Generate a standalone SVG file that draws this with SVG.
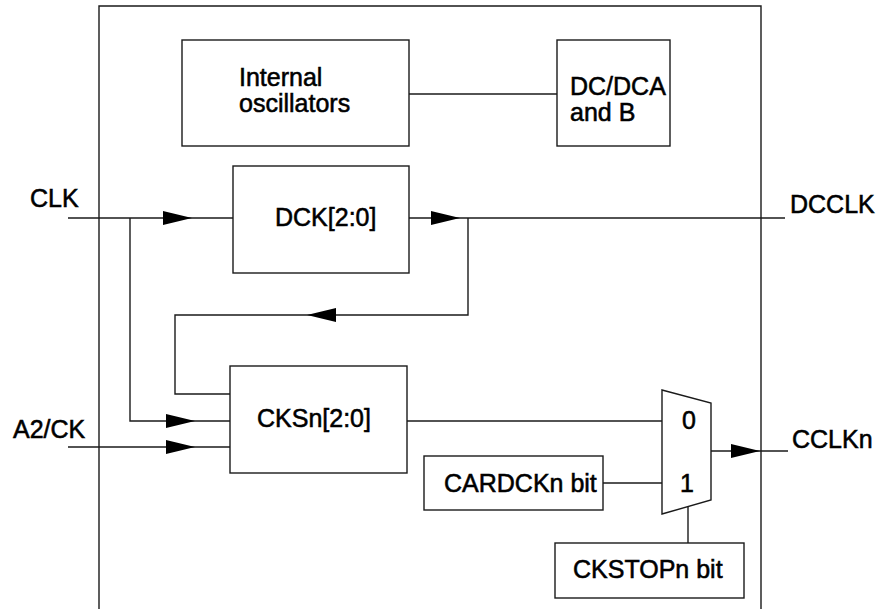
<svg xmlns="http://www.w3.org/2000/svg" width="886" height="609" viewBox="0 0 886 609">
<style>
.b{fill:#fff;stroke:#1a1a1a;stroke-width:1.4}
.w{fill:none;stroke:#1a1a1a;stroke-width:1.4}
.t{font-family:"Liberation Sans",Arial,sans-serif;font-size:25px;fill:#000;stroke:#000;stroke-width:0.55}
.a{fill:#000;stroke:none}
</style>
<defs>
<path id="arr" d="M-29,-7 L0,0 L-29,7 Z"/>
</defs>
<rect width="886" height="609" fill="#fff"/>
<g id="boundary"><path class="w" d="M99,609 V6 H761 V609"/></g>
<g id="connectors">
<path class="w" d="M409,94 H557"/>
<path class="w" d="M68,218 H233"/>
<path class="w" d="M409,218 H785"/>
<path class="w" d="M468,218 V315 H175 V394 H230"/>
<path class="w" d="M130,218 V421 H230"/>
<path class="w" d="M68,447 H230"/>
<path class="w" d="M407,421 H662"/>
<path class="w" d="M603,483 H662"/>
<path class="w" d="M711,451 H788"/>
<path class="w" d="M688,507 V543"/>
<use href="#arr" class="a" transform="translate(192,218)"/>
<use href="#arr" class="a" transform="translate(460,218)"/>
<use href="#arr" class="a" transform="translate(307,315) rotate(180)"/>
<use href="#arr" class="a" transform="translate(195,421)"/>
<use href="#arr" class="a" transform="translate(195,447)"/>
<use href="#arr" class="a" transform="translate(760,451)"/>
</g>
<g id="osc"><rect class="b" x="182" y="40" width="227" height="106"/><text class="t" x="239" y="86">Internal</text><text class="t" x="239" y="112">oscillators</text></g>
<g id="dcdca"><rect class="b" x="557" y="40" width="113" height="106"/><text class="t" x="570" y="95">DC/DCA</text><text class="t" x="570" y="121">and B</text></g>
<g id="dck"><rect class="b" x="233" y="166" width="176" height="107"/><text class="t" x="275" y="226">DCK[2:0]</text></g>
<g id="cksn"><rect class="b" x="230" y="366" width="177" height="107"/><text class="t" x="257" y="427">CKSn[2:0]</text></g>
<g id="cardckn"><rect class="b" x="424" y="456" width="179" height="54"/><text class="t" x="444" y="492">CARDCKn bit</text></g>
<g id="mux"><polygon class="b" points="662,390 711,403 711,500 662,514"/><text class="t" x="682" y="429">0</text><text class="t" x="680" y="492">1</text></g>
<g id="ckstopn"><rect class="b" x="555" y="543" width="189" height="55"/><text class="t" x="573" y="578">CKSTOPn bit</text></g>
<g id="labels">
<text class="t" x="30" y="207">CLK</text>
<text class="t" x="13" y="438">A2/CK</text>
<text class="t" x="790" y="213">DCCLK</text>
<text class="t" x="792" y="448">CCLKn</text>
</g>
</svg>
